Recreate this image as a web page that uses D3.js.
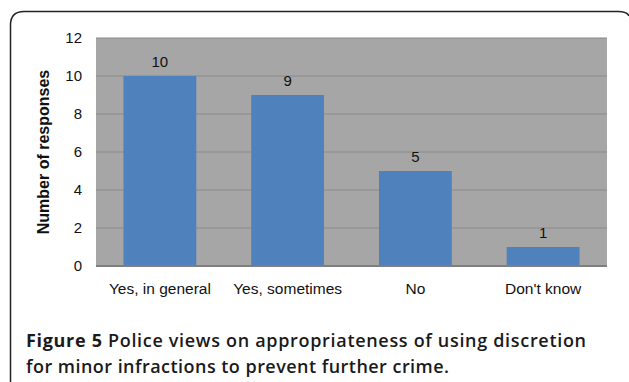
<!DOCTYPE html>
<html>
<head>
<meta charset="utf-8">
<script src="https://cdn.jsdelivr.net/npm/d3@7"></script>
<style>
  html, body { margin: 0; padding: 0; background: #fff; }
  svg { display: block; }
</style>
</head>
<body>
<svg id="chart" width="629" height="382"></svg>
<script>
// Survey responses
const categories = ["Yes, in general", "Yes, sometimes", "No", "Don't know"];
const responses = [10, 9, 5, 1];
const yTicks = [0, 2, 4, 6, 8, 10, 12];
const yLabel = "Number of responses";
const captionBold = "Figure 5";
const captionLines = [
  " Police views on appropriateness of using discretion",
  "for minor infractions to prevent further crime."
];

const svg = d3.select("#chart");
const plot = { left: 96, right: 607, top: 38, bottom: 266 };
const labelFont = "Liberation Sans, Arial, Helvetica, sans-serif";

// Rounded frame around the figure
svg.append("path")
  .attr("d", "M10.5,382 L10.5,25 Q10.5,11.5 24,11.5 L618,11.5 Q627,11.5 629,16")
  .attr("fill", "none")
  .attr("stroke", "#222")
  .attr("stroke-width", 1.5);

const x = d3.scaleBand()
  .domain(categories)
  .range([plot.left, plot.right])
  .paddingInner(0.43)
  .paddingOuter(0.215);

const y = d3.scaleLinear()
  .domain([0, 12])
  .range([plot.bottom, plot.top]);

// Plot background
svg.append("rect")
  .attr("x", plot.left).attr("y", plot.top)
  .attr("width", plot.right - plot.left)
  .attr("height", plot.bottom - plot.top)
  .attr("fill", "#a6a6a6");

// Gridlines
svg.append("g")
  .selectAll("line")
  .data(yTicks.filter(d => d > 0))
  .join("line")
  .attr("x1", plot.left).attr("x2", plot.right)
  .attr("y1", d => y(d)).attr("y2", d => y(d))
  .attr("stroke", "#8a8a8a")
  .attr("stroke-width", 1.2);

// Y axis tick labels
const yAxis = d3.axisLeft(y).tickValues(yTicks).tickSize(0).tickPadding(14);
const gy = svg.append("g")
  .attr("transform", `translate(${plot.left},0)`)
  .call(yAxis);
gy.select(".domain").remove();
gy.selectAll("text")
  .attr("font-family", labelFont)
  .attr("font-size", 15)
  .attr("fill", "#111");

// Bars
svg.append("g")
  .selectAll("rect")
  .data(responses)
  .join("rect")
  .attr("x", (d, i) => x(categories[i]))
  .attr("y", d => y(d))
  .attr("width", x.bandwidth())
  .attr("height", d => y(0) - y(d))
  .attr("fill", "#4f81bd");

// Value labels
svg.append("g")
  .selectAll("text")
  .data(responses)
  .join("text")
  .attr("x", (d, i) => x(categories[i]) + x.bandwidth() / 2)
  .attr("y", d => y(d) - 9.5)
  .attr("text-anchor", "middle")
  .attr("font-family", labelFont)
  .attr("font-size", 15)
  .attr("fill", "#111")
  .text(d => d);

// Baseline
svg.append("line")
  .attr("x1", plot.left).attr("x2", plot.right)
  .attr("y1", y(0)).attr("y2", y(0))
  .attr("stroke", "#7f7f7f")
  .attr("stroke-width", 2);

// X axis labels
const xAxis = d3.axisBottom(x).tickSize(0).tickPadding(17);
const gx = svg.append("g")
  .attr("transform", `translate(0,${plot.bottom})`)
  .call(xAxis);
gx.select(".domain").remove();
gx.selectAll("text")
  .attr("font-family", labelFont)
  .attr("font-size", 15.5)
  .attr("fill", "#111");

// Y axis title
svg.append("text")
  .attr("transform", `translate(48.5,${(plot.top + plot.bottom) / 2}) rotate(-90)`)
  .attr("text-anchor", "middle")
  .attr("font-family", labelFont)
  .attr("font-size", 16)
  .attr("font-weight", "bold")
  .attr("fill", "#111")
  .text(yLabel);

// Caption
const cap = svg.append("g")
  .attr("font-family", "Open Sans, sans-serif")
  .attr("font-size", 18)
  .attr("fill", "#1a1a1a");
const l1 = cap.append("text").attr("x", 26).attr("y", 346.5)
  .attr("textLength", 560).attr("lengthAdjust", "spacing");
l1.append("tspan").attr("font-weight", 700).text(captionBold);
l1.append("tspan").attr("font-weight", 600).text(captionLines[0]);
cap.append("text").attr("x", 26).attr("y", 372.5)
  .attr("textLength", 423).attr("lengthAdjust", "spacing")
  .attr("font-weight", 600)
  .text(captionLines[1]);
</script>
</body>
</html>
